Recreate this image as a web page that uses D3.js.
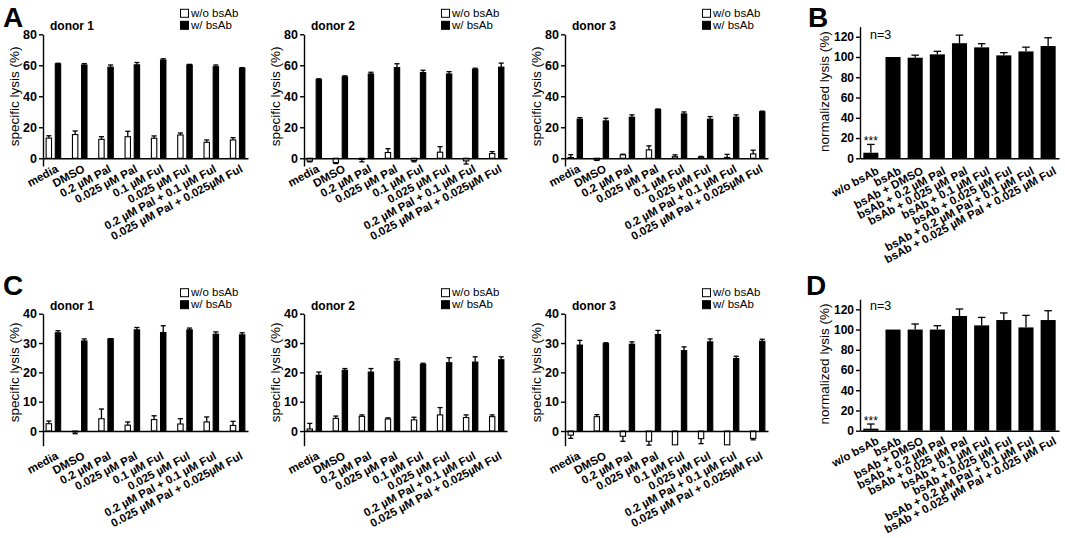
<!DOCTYPE html>
<html>
<head>
<meta charset="utf-8">
<script src="https://cdn.jsdelivr.net/npm/d3@7"></script>
<style>
  body { margin: 0; background: #fff; }
  text { font-family: "Liberation Sans", Arial, sans-serif; }
</style>
</head>
<body>
<svg id="fig" width="1065" height="538"></svg>
<script>
const donorLabels = ["media", "DMSO", "0.2 µM Pal", "0.025 µM Pal", "0.1 µM Ful", "0.025 µM Ful",
  "0.2 µM Pal + 0.1 µM Ful", "0.025 µM Pal + 0.025µM Ful"];
const normLabels = ["w/o bsAb", "bsAb", "bsAb + DMSO", "bsAb + 0.2 µM Pal", "bsAb + 0.025 µM Pal",
  "bsAb + 0.1 µM Ful", "bsAb + 0.025 µM Ful", "bsAb + 0.2 µM Pal + 0.1 µM Ful", "bsAb + 0.025 µM Pal + 0.025 µM Ful"];
const legendLabels = ["w/o bsAb", "w/ bsAb"];

// panel A
const a1Without = [13.0, 15.3, 12.2, 13.9, 12.9, 15.0, 10.3, 11.8];
const a1WithoutErr = [1.5, 2.3, 1.7, 3.5, 1.5, 1.3, 1.5, 1.5];
const a1With = [60.9, 60.2, 58.8, 60.3, 63.4, 60.2, 59.1, 58.1];
const a1WithErr = [0.4, 0.9, 1.4, 1.5, 0.8, 0.4, 1.1, 0.4];
const a2Without = [-1.8, -2.8, -0.8, 3.7, -1.5, 3.9, -1.7, 3.0];
const a2WithoutErr = [0.5, 0.6, 1.5, 2.5, 0.8, 3.6, 2.0, 1.3];
const a2With = [50.8, 52.6, 54.4, 58.5, 55.3, 54.4, 57.4, 58.8];
const a2WithErr = [0.5, 0.6, 1.1, 2.5, 1.5, 1.5, 0.7, 2.6];
const a3Without = [0.5, -1.0, 2.2, 5.4, 1.0, 0.8, 0.5, 2.8];
const a3WithoutErr = [1.8, 0.4, 0.4, 2.6, 1.2, 0.4, 2.0, 2.4];
const a3With = [25.2, 24.1, 26.5, 31.4, 28.6, 25.2, 26.5, 30.0];
const a3WithErr = [1.0, 1.7, 1.5, 0.4, 1.3, 1.7, 1.5, 0.4];

// panel B
const bMean = [5.5, 100, 99.3, 102.6, 113.6, 109.5, 101.6, 105.5, 110.8];
const bErr = [8.2, 0, 2.5, 3.0, 8.0, 3.6, 2.7, 4.2, 8.2];

// panel C
const c1Without = [2.5, -0.3, 4.2, 2.0, 3.9, 2.4, 3.1, 1.9];
const c1WithoutErr = [0.9, 0.6, 3.3, 1.1, 1.3, 1.8, 1.7, 1.4];
const c1With = [33.5, 30.7, 31.4, 34.5, 33.6, 34.5, 33.0, 32.8];
const c1WithErr = [0.7, 0.7, 0.1, 0.8, 2.3, 0.6, 0.8, 0.7];
const c2Without = [0.7, 4.3, 5.0, 4.1, 3.8, 5.5, 4.6, 4.9];
const c2WithoutErr = [1.9, 0.8, 0.5, 0.4, 0.9, 2.5, 0.9, 0.6];
const c2With = [19.0, 20.7, 20.1, 23.8, 22.7, 23.3, 23.5, 24.3];
const c2WithErr = [1.1, 0.6, 1.2, 0.8, 0.4, 1.7, 1.8, 1.0];
const c3Without = [-1.4, 4.9, -1.8, -3.5, -4.7, -2.6, -4.7, -2.5];
const c3WithoutErr = [1.1, 0.7, 1.7, 1.3, 0, 1.7, 0, 0.5];
const c3With = [29.3, 29.8, 29.6, 32.9, 27.4, 30.4, 24.7, 30.6];
const c3WithErr = [1.6, 0.3, 0.8, 1.4, 1.3, 1.0, 0.8, 0.7];

// panel D
const dMean = [2.0, 100, 100, 100, 113.4, 104.1, 109.4, 102.1, 109.4];
const dErr = [4.6, 0, 5.5, 3.8, 6.9, 7.9, 7.0, 11.9, 9.2];

const svg = d3.select('#fig');
const ANGLE = -28;

// rows of donor panels
const rowA = {domain: [-5, 80], range: [166, 34.3], ticks: [0, 20, 40, 60, 80], labelTop: 164};
const rowC = {domain: [-5, 40], range: [445.7, 313.7], ticks: [0, 10, 20, 30, 40], labelTop: 451};
const columns = [[43, 248], [304, 507], [565, 768]];

function styleAxis(ax, size) {
  ax.attr('font-family', null).attr('font-size', null);
  ax.select('.domain').attr('stroke-width', 1.4);
  ax.selectAll('.tick line').attr('stroke-width', 1.4);
  ax.selectAll('text')
      .style('font-size', size + 'px')
      .style('font-weight', 'bold')
      .attr('fill', '#000');
}

function errorBar(g, cx, y, v, e, cap) {
  if (e <= 0) return;
  const end = v < 0 ? v - e : v + e;
  g.append('line')
      .attr('x1', cx).attr('x2', cx)
      .attr('y1', y(v)).attr('y2', y(end))
      .attr('stroke', '#000').attr('stroke-width', 1.3);
  g.append('line')
      .attr('x1', cx - cap / 2).attr('x2', cx + cap / 2)
      .attr('y1', y(end)).attr('y2', y(end))
      .attr('stroke', '#000').attr('stroke-width', 1.3);
}

function drawDonor(row, col, title, without, withoutErr, withAb, withErr) {
  const left = col[0], right = col[1];
  const x = d3.scaleBand().domain(donorLabels).range([left, right])
      .paddingInner(0.41).paddingOuter(0.1);
  const xs = d3.scaleBand().domain(['wo', 'w']).range([0, x.bandwidth()]).paddingInner(0.3);
  const y = d3.scaleLinear().domain(row.domain).range(row.range);
  const g = svg.append('g');

  // bars
  const series = [
    {key: 'wo', vals: without, errs: withoutErr, fill: '#fff'},
    {key: 'w', vals: withAb, errs: withErr, fill: '#000'}
  ];
  series.forEach(function(s) {
    donorLabels.forEach(function(lab, i) {
      const v = s.vals[i];
      const bx = x(lab) + xs(s.key);
      const cx = bx + xs.bandwidth() / 2;
      errorBar(g, cx, y, v, s.errs[i], Math.max(5, xs.bandwidth() * 0.8));
      g.append('rect')
          .attr('x', bx + 0.5)
          .attr('y', Math.min(y(v), y(0)))
          .attr('width', xs.bandwidth() - 1)
          .attr('height', Math.abs(y(v) - y(0)))
          .attr('fill', s.fill)
          .attr('stroke', '#000')
          .attr('stroke-width', 1.1);
    });
  });

  // x axis
  const xa = g.append('g')
      .attr('transform', 'translate(0,' + y(0) + ')')
      .call(d3.axisBottom(x).tickSize(0).tickSizeOuter(0));
  styleAxis(xa, 11.5);
  xa.selectAll('text')
      .attr('y', 0)
      .attr('dy', '0.72em')
      .attr('transform', 'translate(2,' + (row.labelTop - y(0)) + ') rotate(' + ANGLE + ')')
      .style('text-anchor', 'end');

  // y axis
  const ya = g.append('g')
      .attr('transform', 'translate(' + left + ',0)')
      .call(d3.axisLeft(y).tickValues(row.ticks).tickSize(4).tickSizeOuter(0).tickPadding(2));
  styleAxis(ya, 12.5);

  const top = y(row.ticks[row.ticks.length - 1]);
  g.append('text')
      .attr('transform', 'translate(' + (left - 24) + ',' + ((top + y(0)) / 2) + ') rotate(-90)')
      .attr('text-anchor', 'middle')
      .style('font-size', '13.5px')
      .text('specific lysis (%)');

  g.append('text')
      .attr('x', left + 7).attr('y', top - 4)
      .style('font-size', '12px').style('font-weight', 'bold')
      .text(title);

  // legend
  legendLabels.forEach(function(lab, i) {
    g.append('rect')
        .attr('x', left + 137.5).attr('y', top - 25 + i * 12)
        .attr('width', 8).attr('height', 8)
        .attr('fill', i === 0 ? '#fff' : '#000')
        .attr('stroke', '#000').attr('stroke-width', 1);
    g.append('text')
        .attr('x', left + 148).attr('y', top - 17.5 + i * 12)
        .style('font-size', '11.5px')
        .text(lab);
  });
}

function drawNorm(yRange, labelTop, nY, mean, err) {
  const left = 860, right = 1059;
  const x = d3.scaleBand().domain(normLabels).range([left, right])
      .paddingInner(0.32).paddingOuter(0.15);
  const y = d3.scaleLinear().domain([0, 130]).range(yRange);
  const g = svg.append('g');

  normLabels.forEach(function(lab, i) {
    const cx = x(lab) + x.bandwidth() / 2;
    errorBar(g, cx, y, mean[i], err[i], x.bandwidth() * 0.5);
    g.append('rect')
        .attr('x', x(lab))
        .attr('y', y(mean[i]))
        .attr('width', x.bandwidth())
        .attr('height', y(0) - y(mean[i]))
        .attr('fill', '#000');
  });

  g.append('text')
      .attr('x', x(normLabels[0]) + x.bandwidth() / 2)
      .attr('y', y(mean[0] + err[0]) + 1)
      .attr('text-anchor', 'middle')
      .style('font-size', '12px')
      .text('***');

  const xa = g.append('g')
      .attr('transform', 'translate(0,' + y(0) + ')')
      .call(d3.axisBottom(x).tickSize(0).tickSizeOuter(0));
  styleAxis(xa, 11.5);
  xa.selectAll('text')
      .attr('y', 0)
      .attr('dy', '0.72em')
      .attr('transform', 'translate(5,' + (labelTop - y(0)) + ') rotate(' + ANGLE + ')')
      .style('text-anchor', 'end');

  const ya = g.append('g')
      .attr('transform', 'translate(' + left + ',0)')
      .call(d3.axisLeft(y).tickValues(d3.range(0, 121, 20)).tickSize(4).tickSizeOuter(0).tickPadding(2));
  styleAxis(ya, 12);

  g.append('text')
      .attr('transform', 'translate(' + (left - 31) + ',' + ((y(120) + y(0)) / 2 - 6) + ') rotate(-90)')
      .attr('text-anchor', 'middle')
      .style('font-size', '13.5px')
      .text('normalized lysis (%)');

  g.append('text')
      .attr('x', left + 10).attr('y', nY)
      .style('font-size', '12.5px')
      .text('n=3');
}

drawDonor(rowA, columns[0], 'donor 1', a1Without, a1WithoutErr, a1With, a1WithErr);
drawDonor(rowA, columns[1], 'donor 2', a2Without, a2WithoutErr, a2With, a2WithErr);
drawDonor(rowA, columns[2], 'donor 3', a3Without, a3WithoutErr, a3With, a3WithErr);
drawNorm([158.3, 26.6], 166, 39, bMean, bErr);

drawDonor(rowC, columns[0], 'donor 1', c1Without, c1WithoutErr, c1With, c1WithErr);
drawDonor(rowC, columns[1], 'donor 2', c2Without, c2WithoutErr, c2With, c2WithErr);
drawDonor(rowC, columns[2], 'donor 3', c3Without, c3WithoutErr, c3With, c3WithErr);
drawNorm([430.7, 299.2], 436, 309.5, dMean, dErr);

// panel letters
[['A', 3, 27], ['B', 808, 27], ['C', 3, 295], ['D', 806, 295]].forEach(function(p) {
  svg.append('text')
      .attr('x', p[1]).attr('y', p[2])
      .style('font-size', '28px').style('font-weight', 'bold')
      .text(p[0]);
});
</script>
</body>
</html>
